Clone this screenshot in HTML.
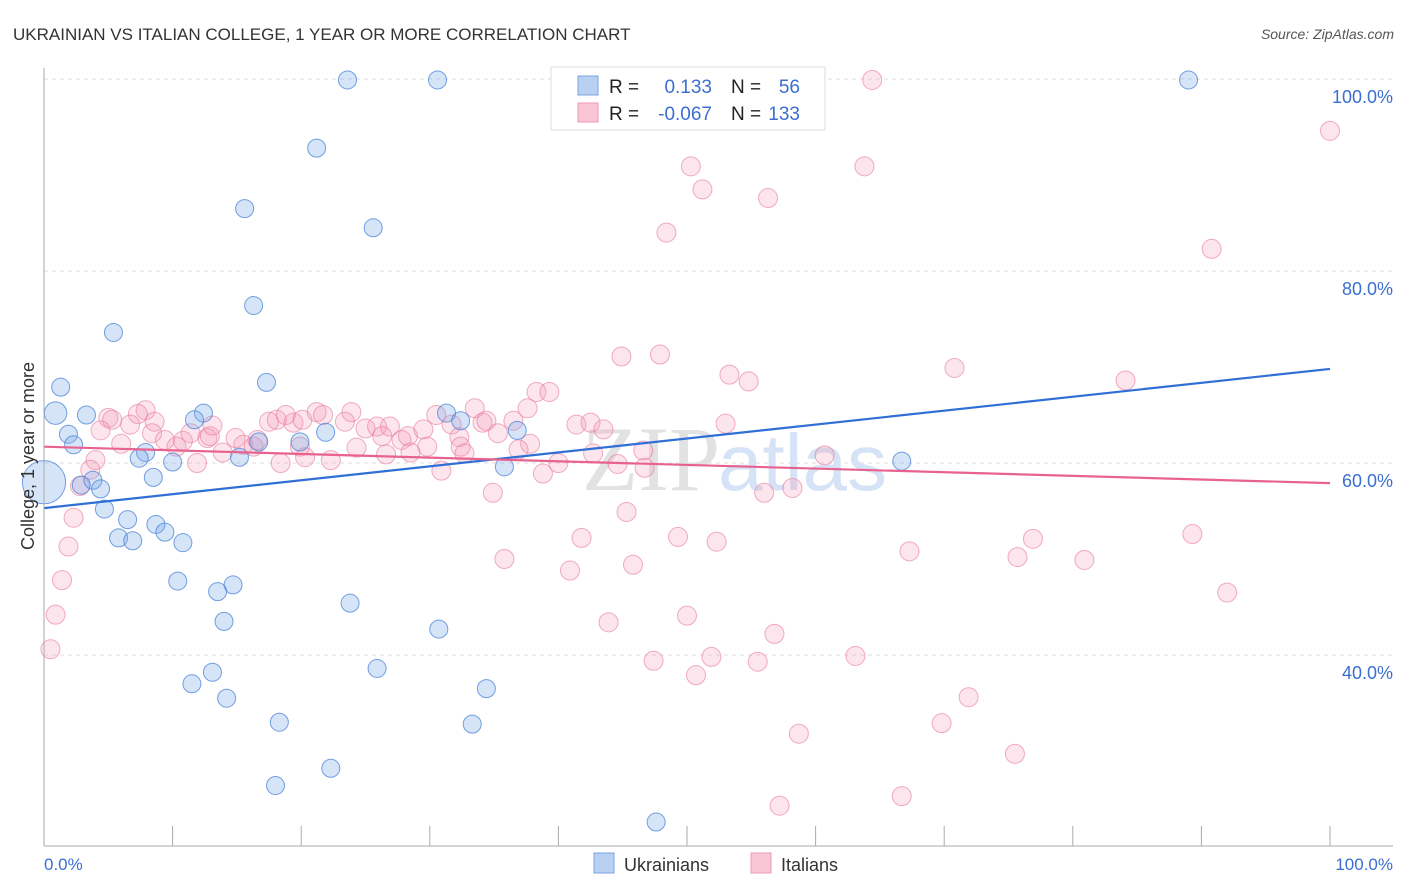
<!DOCTYPE html>
<html><head><meta charset="utf-8"><style>
body{margin:0;background:#fff;width:1406px;height:892px;overflow:hidden;font-family:"Liberation Sans",sans-serif}
svg{display:block}
</style></head><body>
<svg id="chart" width="1406" height="892">
<text x="13" y="40" font-size="17" fill="#333">UKRAINIAN VS ITALIAN COLLEGE, 1 YEAR OR MORE CORRELATION CHART</text>
<text x="1394" y="39" font-size="14" fill="#555" font-style="italic" text-anchor="end">Source: ZipAtlas.com</text>
<g id="grid"></g>
<text x="720" y="490" font-size="92" font-family="Liberation Serif,serif" fill="#e2e2e2" text-anchor="end">ZIP</text>
<text x="718" y="490" font-size="80" fill="#d6e3f6">atlas</text>
<g id="pts"></g>
<g id="trend"></g>
<g id="axes"></g>
<text transform="translate(34,456) rotate(-90)" font-size="18" fill="#333" text-anchor="middle">College, 1 year or more</text>
<text x="44" y="870" font-size="17" fill="#3a6fd0">0.0%</text>
<text x="1393" y="870" font-size="17" fill="#3a6fd0" text-anchor="end">100.0%</text>
<g>
<rect x="551" y="67" width="274" height="63" fill="#fff" stroke="#ddd"/>
<rect x="578" y="76" width="20" height="19" fill="#b8d1f3" stroke="#7aa3e0"/>
<rect x="578" y="103" width="20" height="19" fill="#f9c6d5" stroke="#ee9ab4"/>
<text x="609" y="93" font-size="19" fill="#222">R =</text><text x="712" y="93" font-size="19" fill="#3a6fd0" text-anchor="end">0.133</text>
<text x="731" y="93" font-size="19" fill="#222">N =</text><text x="800" y="93" font-size="19" fill="#3a6fd0" text-anchor="end">56</text>
<text x="609" y="120" font-size="19" fill="#222">R =</text><text x="712" y="120" font-size="19" fill="#3a6fd0" text-anchor="end">-0.067</text>
<text x="731" y="120" font-size="19" fill="#222">N =</text><text x="800" y="120" font-size="19" fill="#3a6fd0" text-anchor="end">133</text>
</g>
<g>
<rect x="594" y="853" width="20" height="20" fill="#b8d1f3" stroke="#7aa3e0"/>
<text x="624" y="871" font-size="18" fill="#333">Ukrainians</text>
<rect x="751" y="853" width="20" height="20" fill="#f9c6d5" stroke="#ee9ab4"/>
<text x="781" y="871" font-size="18" fill="#333">Italians</text>
</g>
</svg>
<script>
const yTicks=[40,60,80,100];
const yTickLabels=["40.0%","60.0%","80.0%","100.0%"];
const blueX=[23.6,30.6,89.0,21.2,15.6,25.6,16.3,5.4,17.3,1.3,0.9,3.3,12.4,11.7,1.9,2.3,21.9,31.3,32.4,36.8,19.9,16.7,7.9,7.4,10.0,15.2,35.8,66.7,0,2.9,3.8,4.4,8.5,4.7,6.5,8.7,9.4,5.8,6.9,10.8,10.4,14.7,13.5,23.8,14.0,30.7,13.1,25.9,11.5,34.4,14.2,18.3,33.3,22.3,18.0,47.6];
const blueY=[99.9,99.9,99.9,92.8,86.5,84.5,76.4,73.6,68.4,67.9,65.2,65.0,65.2,64.5,63.0,61.9,63.2,65.2,64.4,63.4,62.2,62.2,61.1,60.5,60.1,60.6,59.6,60.2,58.0,57.7,58.2,57.3,58.5,55.2,54.1,53.6,52.8,52.2,51.9,51.7,47.7,47.3,46.6,45.4,43.5,42.7,38.2,38.6,37.0,36.5,35.5,33.0,32.8,28.2,26.4,22.6];
const blueSize=[1,1,1,1,1,1,1,1,1,1,1.25,1,1,1,1,1,1,1,1,1,1,1,1,1,1,1,1,1,2.4,1,1,1,1,1,1,1,1,1,1,1,1,1,1,1,1,1,1,1,1,1,1,1,1,1,1,1];
const pinkX=[64.4,100,50.3,63.8,51.2,56.3,48.4,90.8,44.9,47.9,70.8,53.3,54.8,84.1,38.3,39.3,7.9,7.3,5.0,5.3,4.4,6.7,8.6,8.4,6.0,9.4,10.8,10.3,11.4,12.7,12.9,13.1,13.9,14.9,15.5,16.3,16.6,17.5,18.1,19.4,18.8,20.1,21.2,21.7,23.9,23.4,25.0,25.9,26.9,26.3,27.8,28.3,29.5,29.8,30.5,31.7,32.3,32.4,33.5,34.1,34.4,35.3,36.5,37.6,37.8,41.4,42.5,43.5,19.9,20.3,22.3,24.3,26.6,28.5,30.9,32.7,36.9,38.8,40.0,42.7,44.6,46.6,46.7,53.0,18.4,11.9,4.0,3.6,2.8,2.3,1.9,1.4,0.9,0.5,34.9,56.0,58.2,45.3,60.7,35.8,40.9,41.8,45.8,49.3,52.3,67.3,75.7,76.9,80.9,89.3,92.0,43.9,50.0,56.8,47.4,51.9,55.5,50.7,63.1,69.8,71.9,58.7,75.5,57.2,66.7];
const pinkY=[99.9,94.6,90.9,90.9,88.5,87.6,84.0,82.3,71.1,71.3,69.9,69.2,68.5,68.6,67.4,67.4,65.5,65.1,64.7,64.5,63.4,64.0,64.3,63.1,62.0,62.4,62.3,61.7,63.1,62.6,62.8,63.9,61.1,62.6,61.9,61.7,62.4,64.3,64.5,64.2,65.0,64.5,65.3,65.0,65.3,64.3,63.6,63.8,63.8,62.8,62.4,62.8,63.5,61.7,65.0,64.0,62.7,61.7,65.7,64.2,64.4,63.1,64.4,65.7,62.0,64.0,64.2,63.5,61.7,60.6,60.3,61.6,60.9,61.1,59.2,61.0,61.4,58.9,60.0,61.0,59.9,61.3,59.5,64.1,60.0,60.0,60.3,59.3,57.6,54.3,51.3,47.8,44.2,40.6,56.9,56.9,57.4,54.9,60.8,50.0,48.8,52.2,49.4,52.3,51.8,50.8,50.2,52.1,49.9,52.6,46.5,43.4,44.1,42.2,39.4,39.8,39.3,37.9,39.9,32.9,35.6,31.8,29.7,24.3,25.3];
const blueTrend=[55.3,69.8];
const pinkTrend=[61.7,57.9];
const NS='http://www.w3.org/2000/svg';
const X=v=>44+v*12.86;
const Y=v=>1039-v*9.6;
function mk(t,a,p){const e=document.createElementNS(NS,t);for(const k in a)e.setAttribute(k,a[k]);p.appendChild(e);return e;}
const grid=document.getElementById('grid');
yTicks.forEach((t,i)=>{
  const l=mk('line',{x1:44,x2:1393,y1:Y(t),y2:Y(t),stroke:'#ddd','stroke-dasharray':'4,4'},grid);
  
  
  const tx=mk('text',{x:1393,y:Y(t)+24,'font-size':18,fill:'#3a6fd0','text-anchor':'end'},grid);
  tx.textContent=yTickLabels[i];
  
  
});
const axes=document.getElementById('axes');
mk('line',{x1:44,x2:44,y1:68,y2:846,stroke:'#aaa'},axes);
mk('line',{x1:44,x2:1393,y1:846,y2:846,stroke:'#aaa'},axes);
for(let i=1;i<=10;i++){const t=mk('line',{x1:X(i*10),x2:X(i*10),y1:826,y2:846,stroke:'#aaa'},axes);
  
  }
const pts=document.getElementById('pts');
pinkX.forEach((x,i)=>{const c=mk('circle',{cx:X(x),cy:Y(pinkY[i]),r:9.5,fill:'rgba(244,150,178,0.25)',stroke:'rgba(232,120,155,0.6)','stroke-width':1},pts);
  
  });
blueX.forEach((x,i)=>{const c=mk('circle',{cx:X(x),cy:Y(blueY[i]),r:9*blueSize[i],fill:'rgba(120,165,232,0.3)',stroke:'rgba(70,130,215,0.75)','stroke-width':1},pts);
  
  });
const tr=document.getElementById('trend');
const bl=mk('line',{x1:X(0),x2:X(100),y1:Y(blueTrend[0]),y2:Y(blueTrend[1]),stroke:'#2f6fd6','stroke-width':2.2},tr);


const pl=mk('line',{x1:X(0),x2:X(100),y1:Y(pinkTrend[0]),y2:Y(pinkTrend[1]),stroke:'#e8628f','stroke-width':2.2},tr);


</script>
</body></html>
